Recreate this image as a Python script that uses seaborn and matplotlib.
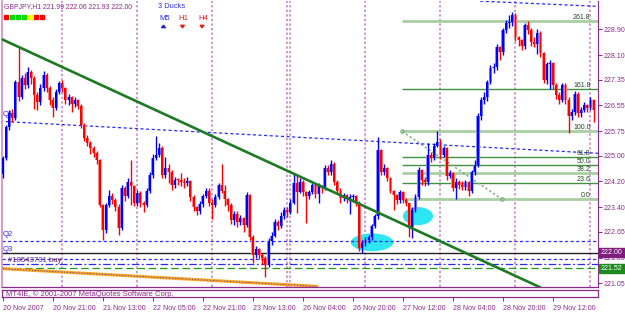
import numpy as np
import pandas as pd
import matplotlib
matplotlib.use("Agg")
import matplotlib.pyplot as plt
from matplotlib.patches import Ellipse, Rectangle, Polygon
import seaborn as sns

sns.set_theme(style="white")
plt.rcParams['font.family'] = ['Liberation Sans', 'DejaVu Sans']

# ---------------- data (GBPJPY H1) ----------------
first_open = 224.44
close = [
    224.94, 225.87, 226.30, 226.15, 227.26, 226.80, 227.39, 227.17, 227.57, 227.39,
    226.86, 226.64, 227.08, 227.48, 227.08, 226.71, 226.46, 226.95, 227.23, 227.08,
    226.71, 226.80, 226.58, 226.71, 226.52, 225.93, 225.53, 225.38, 225.22, 225.07,
    224.85, 223.46, 222.69, 223.46, 223.74, 223.62, 223.40, 222.75, 223.99, 223.74,
    224.17, 224.05, 223.52, 223.83, 223.52, 223.46, 223.92, 224.39, 224.94, 225.01,
    225.22, 224.39, 224.61, 224.48, 224.08, 224.26, 224.23, 224.17, 224.14, 224.20,
    223.71, 223.40, 223.28, 223.49, 223.74, 223.92, 223.55, 223.46, 223.71, 224.08,
    223.92, 223.65, 223.46, 223.00, 223.21, 222.94, 223.06, 222.84, 223.77, 222.50,
    221.92, 222.10, 221.92, 221.85, 221.61, 222.35, 222.53, 222.94, 222.81, 223.12,
    223.31, 223.25, 223.55, 224.14, 223.89, 224.17, 223.86, 223.74, 223.86, 224.08,
    223.80, 224.05, 223.99, 224.61, 224.48, 224.73, 224.17, 223.92, 223.68, 223.77,
    223.65, 223.71, 223.74, 223.52, 222.13, 222.29, 222.38, 222.47, 222.81, 223.12,
    225.16, 224.48, 224.61, 224.30, 223.92, 223.77, 223.62, 223.86, 223.62, 223.52,
    222.78, 223.31, 223.71, 224.54, 224.23, 224.17, 225.01, 224.91, 225.31, 225.41,
    225.01, 225.22, 224.36, 224.45, 223.99, 224.17, 224.08, 224.02, 224.17, 223.92,
    224.48, 224.70, 226.21, 226.71, 226.80, 227.26, 227.70, 227.73, 228.34, 228.19,
    228.87, 229.09, 229.12, 229.33, 228.65, 228.56, 228.37, 229.02, 228.87, 228.50,
    228.44, 228.78, 228.16, 227.33, 227.82, 227.85, 227.17, 226.86, 226.71, 227.17,
    226.71, 226.21, 226.34, 226.89, 226.30, 226.40, 226.55, 226.46, 226.71, 226.40,
]
high = [
    225.00, 225.95, 226.40, 226.45, 227.35, 228.31, 227.50, 227.55, 227.75, 227.65,
    227.45, 226.95, 227.20, 227.60, 227.55, 227.15, 226.80, 227.05, 227.30, 227.35,
    227.12, 226.90, 226.85, 226.80, 226.75, 226.60, 226.00, 225.65, 225.45, 225.30,
    225.15, 224.90, 223.50, 223.55, 223.95, 223.85, 223.70, 223.50, 224.10, 224.05,
    224.30, 224.85, 224.10, 223.95, 223.90, 223.60, 224.00, 224.50, 225.05, 225.59,
    225.40, 225.30, 224.95, 224.75, 224.55, 224.35, 224.32, 224.45, 224.30, 224.35,
    224.25, 223.78, 223.45, 223.60, 223.82, 224.00, 224.00, 223.65, 223.80, 224.15,
    224.75, 224.10, 223.70, 223.52, 223.30, 223.30, 223.15, 223.10, 223.86, 223.80,
    222.55, 222.20, 222.15, 221.98, 221.90, 222.45, 222.65, 223.05, 223.00, 223.25,
    223.40, 223.40, 223.65, 224.45, 224.40, 224.30, 224.25, 223.90, 223.95, 224.15,
    224.15, 224.15, 224.10, 224.70, 224.70, 224.85, 224.80, 224.25, 224.00, 223.85,
    223.82, 223.80, 223.82, 223.78, 223.60, 222.40, 222.50, 222.55, 222.90, 223.20,
    225.56, 225.20, 224.75, 224.65, 224.35, 223.95, 223.80, 223.95, 223.90, 223.68,
    223.55, 223.40, 223.80, 224.65, 224.60, 224.35, 225.38, 225.10, 225.40, 225.75,
    225.50, 225.30, 225.28, 224.55, 224.50, 224.30, 224.25, 224.20, 224.25, 224.20,
    224.55, 224.85, 226.30, 226.80, 226.95, 227.35, 227.80, 227.85, 228.45, 228.40,
    228.95, 229.20, 229.35, 229.45, 229.40, 228.70, 228.60, 229.10, 229.15, 228.95,
    228.65, 228.90, 228.85, 228.20, 227.90, 227.95, 227.90, 227.25, 226.95, 227.25,
    227.25, 226.80, 226.45, 227.00, 226.95, 226.50, 226.65, 226.60, 226.80, 226.75,
]
low = [
    224.30, 224.85, 225.80, 226.05, 226.10, 226.70, 226.75, 227.05, 227.10, 227.20,
    226.45, 226.40, 226.55, 227.00, 226.95, 226.55, 226.18, 226.40, 226.90, 226.95,
    226.60, 226.55, 226.35, 226.50, 226.45, 225.85, 225.45, 225.30, 225.05, 224.95,
    224.75, 223.40, 222.40, 222.60, 223.40, 223.50, 223.30, 222.55, 222.70, 223.60,
    223.70, 223.46, 223.45, 223.45, 223.40, 223.25, 223.40, 223.85, 224.30, 224.85,
    224.95, 224.30, 224.30, 224.15, 223.95, 224.00, 224.10, 224.05, 224.00, 224.05,
    223.60, 223.30, 223.15, 223.20, 223.40, 223.68, 223.45, 223.05, 223.40, 223.65,
    223.85, 223.45, 223.30, 222.90, 222.85, 222.80, 222.85, 222.65, 222.80, 222.40,
    221.67, 221.85, 221.80, 221.65, 221.24, 221.55, 222.25, 222.48, 222.70, 222.75,
    223.05, 223.10, 223.20, 223.50, 223.22, 223.85, 223.75, 222.92, 223.65, 223.80,
    223.70, 223.52, 223.85, 223.95, 224.40, 224.40, 224.10, 223.85, 223.55, 223.60,
    223.55, 223.20, 223.60, 223.45, 222.05, 222.00, 222.20, 222.30, 222.40, 222.75,
    223.05, 224.40, 224.40, 224.20, 223.85, 223.31, 223.50, 223.55, 223.55, 223.45,
    222.47, 222.45, 223.25, 223.65, 224.10, 224.05, 224.10, 224.80, 224.85, 225.25,
    224.90, 224.95, 224.25, 224.30, 223.90, 223.65, 223.98, 223.95, 223.95, 223.75,
    223.85, 224.40, 224.65, 226.10, 226.60, 226.70, 227.20, 227.55, 227.65, 227.95,
    228.10, 228.80, 228.95, 229.00, 228.55, 228.40, 228.25, 228.30, 228.75, 228.40,
    228.35, 228.15, 228.05, 227.25, 227.20, 227.07, 227.05, 226.75, 226.60, 226.65,
    226.60, 225.69, 226.10, 226.25, 226.20, 226.20, 226.35, 226.35, 226.40, 226.05,
]
x_tick_bars = [0, 16, 32, 48, 64, 80, 96, 112, 128, 144, 160, 176]
x_tick_labels = ["20 Nov 2007", "20 Nov 21:00", "21 Nov 13:00", "22 Nov 05:00",
                 "22 Nov 21:00", "23 Nov 13:00", "26 Nov 04:00", "26 Nov 20:00",
                 "27 Nov 12:00", "28 Nov 04:00", "28 Nov 20:00", "29 Nov 12:00"]
y_ticks = [228.90, 228.10, 227.35, 226.55, 225.75, 225.00, 224.20, 223.40, 222.65, 221.85, 221.05]
day_separators = [19, 43, 67, 91, 92, 116, 140, 164, 188]
fib_levels = [0.0, 23.6, 38.2, 50.0, 61.8, 100.0, 161.8, 261.8]
fib_low, fib_high = 223.65, 225.75
bid_price = 222.00
stop_price = 221.52
q2_price = 222.36
order_price = 221.64
aux_price = 221.82
title_ohlc = "GBPJPY,H1 221.99 222.06 221.93 222.00"

# ---------------- figure ----------------
W, H = 625, 313
PURPLE = '#8B2A8B'
BLUE = '#2B2BFF'
FS = 5.0
fig = plt.figure(figsize=(W / 100, H / 100), dpi=100)
fig.patch.set_facecolor('white')
ax = fig.add_axes([2 / W, 1 - 287 / H, 596 / W, 286 / H])
ax.set_facecolor('white')
XMIN, XMAX = -0.3, 190.4
YMIN, YMAX = 220.94, 229.775
ax.set_xlim(XMIN, XMAX)
ax.set_ylim(YMIN, YMAX)

n = len(close)
opens = [first_open] + close[:-1]
df = pd.DataFrame({'i': np.arange(n), 'open': opens, 'close': close, 'high': high, 'low': low})
df['up'] = df['close'] >= df['open']

# cyan ellipses (behind candles)
ax.add_patch(Ellipse((118.1, 222.32), 13.6, 0.55, color='#2EE6F2', zorder=1.5, lw=0))
ax.add_patch(Ellipse((132.8, 223.13), 9.6, 0.56, color='#2EE6F2', zorder=1.5, lw=0))

# day separators
for d in day_separators:
    ax.axvline(d, color='#C27AC2', lw=1.1, ls=(0, (1.5, 1.5)), zorder=1)

# horizontal lines
ax.axhline(q2_price, color=BLUE, lw=0.9, ls=(0, (2.5, 2)), zorder=2)
ax.axhline(bid_price, color='#222222', lw=1.0, zorder=2)
ax.axhline(aux_price, color=BLUE, lw=0.9, ls=(0, (2.5, 2)), zorder=2)
ax.axhline(order_price, color=BLUE, lw=0.9, ls=(0, (6, 2, 1.5, 2)), zorder=2)
ax.axhline(stop_price, color='#1E9A1E', lw=0.9, ls=(0, (6, 3)), zorder=2)

# Fibonacci
fx0 = 127.7
for lv in fib_levels:
    p = fib_low + (fib_high - fib_low) * lv / 100.0
    light = lv in (0.0, 38.2, 100.0, 261.8)
    ax.plot([fx0, XMAX], [p, p], color='#A8CFA0' if light else '#3F933F',
            lw=2.0 if light else 1.0, zorder=2, solid_capstyle='butt')
    lab = "%.1f" % lv
    ax.text(188.0, p + 0.02, lab, fontsize=FS, color='#234423', ha='right', va='bottom', zorder=6)

diag = pd.DataFrame({'i': [127.7, 159.7], 'p': [fib_high, fib_low]})
sns.lineplot(data=diag, x='i', y='p', ax=ax, color='#7FAF7F', lw=1.1, ls=(0, (1.5, 1.5)), zorder=2)
ax.plot(diag['i'], diag['p'], 'o', mfc='none', mec='#7FAF7F', ms=2.5, mew=0.8, zorder=2)

# channel / trend lines
chan = pd.DataFrame({'i': [-0.93, 190.4], 'p': [226.06, 225.07]})
sns.lineplot(data=chan, x='i', y='p', ax=ax, color=BLUE, lw=0.9, ls=(0, (2.5, 2)), zorder=2)
topl = pd.DataFrame({'i': [152.7, 190.4], 'p': [229.77, 229.61]})
sns.lineplot(data=topl, x='i', y='p', ax=ax, color=BLUE, lw=0.9, ls=(0, (2.5, 2)), zorder=2)
orange = pd.DataFrame({'i': [-0.93, 100.5], 'p': [221.51, 220.96]})
sns.lineplot(data=orange, x='i', y='p', ax=ax, color='#FFA51F', lw=2.2, zorder=2)
sns.lineplot(data=orange, x='i', y='p', ax=ax, color='#3030E0', lw=0.7, ls=(0, (1, 2)), zorder=2.1)
trend = pd.DataFrame({'i': [-0.93, 171.9], 'p': [228.62, 220.93]})
sns.lineplot(data=trend, x='i', y='p', ax=ax, color='#1C7A22', lw=1.9, zorder=4)

# candles
for is_up, strong, soft in [(True, '#0000FF', '#8A8AFF'), (False, '#FF0000', '#FF8C8C')]:
    s = df[df['up'] == is_up]
    ax.vlines(s['i'], s['low'], s['high'], color=strong, lw=1.0, zorder=3)
    bottom = np.minimum(s['open'], s['close'])
    height = np.maximum(np.abs(s['close'] - s['open']), 0.04)
    ax.bar(s['i'], height, bottom=bottom, width=0.98, color=soft, lw=0, zorder=2.9)
    ax.bar(s['i'], height, bottom=bottom, width=0.62, color=strong, lw=0, zorder=3.1)

# spines / ticks
ax.spines['top'].set_visible(False)
ax.spines['left'].set_color('#D48AC4')
ax.spines['left'].set_linewidth(1.2)
ax.spines['right'].set_color(PURPLE)
ax.spines['right'].set_linewidth(0.8)
ax.spines['bottom'].set_color(PURPLE)
ax.spines['bottom'].set_linewidth(0.9)
ax.set_xticks([])
ax.yaxis.tick_right()
ax.set_yticks(y_ticks)
ax.set_yticklabels(["%.2f" % v for v in y_ticks])
ax.tick_params(axis='y', right=True, length=3, width=0.7, color=PURPLE, labelcolor=PURPLE,
               labelsize=FS, pad=1.2, direction='out')
ax.set_xlabel('')
ax.set_ylabel('')
ax.grid(False)

# price boxes on the right axis
def price_box(price, text, bg):
    y = 29.3 + (228.90 - price) * 32.36
    fig.patches.append(Rectangle((599 / W, 1 - (y + 4.5) / H), 26 / W, 9 / H,
                                 transform=fig.transFigure, color=bg, zorder=10))
    fig.text(601 / W, 1 - y / H, text, fontsize=FS, color='white', ha='left', va='center', zorder=11)

price_box(bid_price, "222.00", '#7E1E7E')
price_box(stop_price, "221.52", '#1E8A1E')

# sub window with copyright
sub = fig.add_axes([2 / W, 1 - 297 / H, 596 / W, 7 / H])
sub.set_xlim(XMIN, XMAX)
sub.set_ylim(0, 1)
sub.set_facecolor('white')
for sp in sub.spines.values():
    sp.set_color(PURPLE)
    sp.set_linewidth(0.9)
sub.set_yticks([])
sub.set_xticks(x_tick_bars)
sub.set_xticklabels(x_tick_labels, ha='left')
sub.tick_params(axis='x', bottom=True, length=3, width=0.7, color=PURPLE, labelcolor=PURPLE,
                labelsize=5.1, pad=2.5, direction='out')
for lbl in sub.get_xticklabels():
    lbl.set_horizontalalignment('left')
sub.text(0.006, 0.45, "MT4IE, \u00a9 2001-2007 MetaQuotes Software Corp.", transform=sub.transAxes,
         fontsize=5.5, color=PURPLE, ha='left', va='center')

# header texts
def ftext(x, y, s, color, size=FS, **kw):
    fig.text(x / W, 1 - y / H, s, fontsize=size, color=color, va='center', **kw)

ftext(4, 7, title_ohlc, PURPLE, size=4.95)
square_colors = ['#FF0000', '#00DD00', '#00DD00', '#00DD00', '#FFFF00', '#FF0000', '#FF0000']
for k, c in enumerate(square_colors):
    fig.patches.append(Rectangle(((4 + 6 * k) / W, 1 - 19 / H), 4 / W, 4 / H,
                                 transform=fig.transFigure, color=c, zorder=10))
ftext(158, 7, "3 Ducks", '#3030E0', size=5.4)
ftext(159, 18, "M5", '#2020E0', size=5.6)
ftext(178, 18, "H1", '#E02020', size=5.6)
ftext(198, 18, "H4", '#E02020', size=5.6)
def tri(cx, cy, up, color):
    if up:
        pts = [(cx - 2, cy + 1.2), (cx + 2, cy + 1.2), (cx, cy - 1.3)]
    else:
        pts = [(cx - 2, cy - 1.2), (cx + 2, cy - 1.2), (cx, cy + 1.3)]
    fig.patches.append(Polygon([(px / W, 1 - py / H) for px, py in pts], closed=True,
                               transform=fig.transFigure, color=color, zorder=10))
tri(163.5, 26.5, True, '#2020E0')
tri(182.5, 26.5, False, '#E02020')
tri(202, 26.5, False, '#E02020')

ftext(3, 114, "Q1", '#2B2BE0', size=5.6)
ftext(3, 234, "Q2", '#2B2BE0', size=5.6)
ftext(3, 249.5, "Q3", '#2B2BE0', size=5.6)
ftext(8, 261, "#18543731 buy", '#6A2A6A', size=5.6)

fig.savefig("out.png", dpi=100, facecolor='white')
